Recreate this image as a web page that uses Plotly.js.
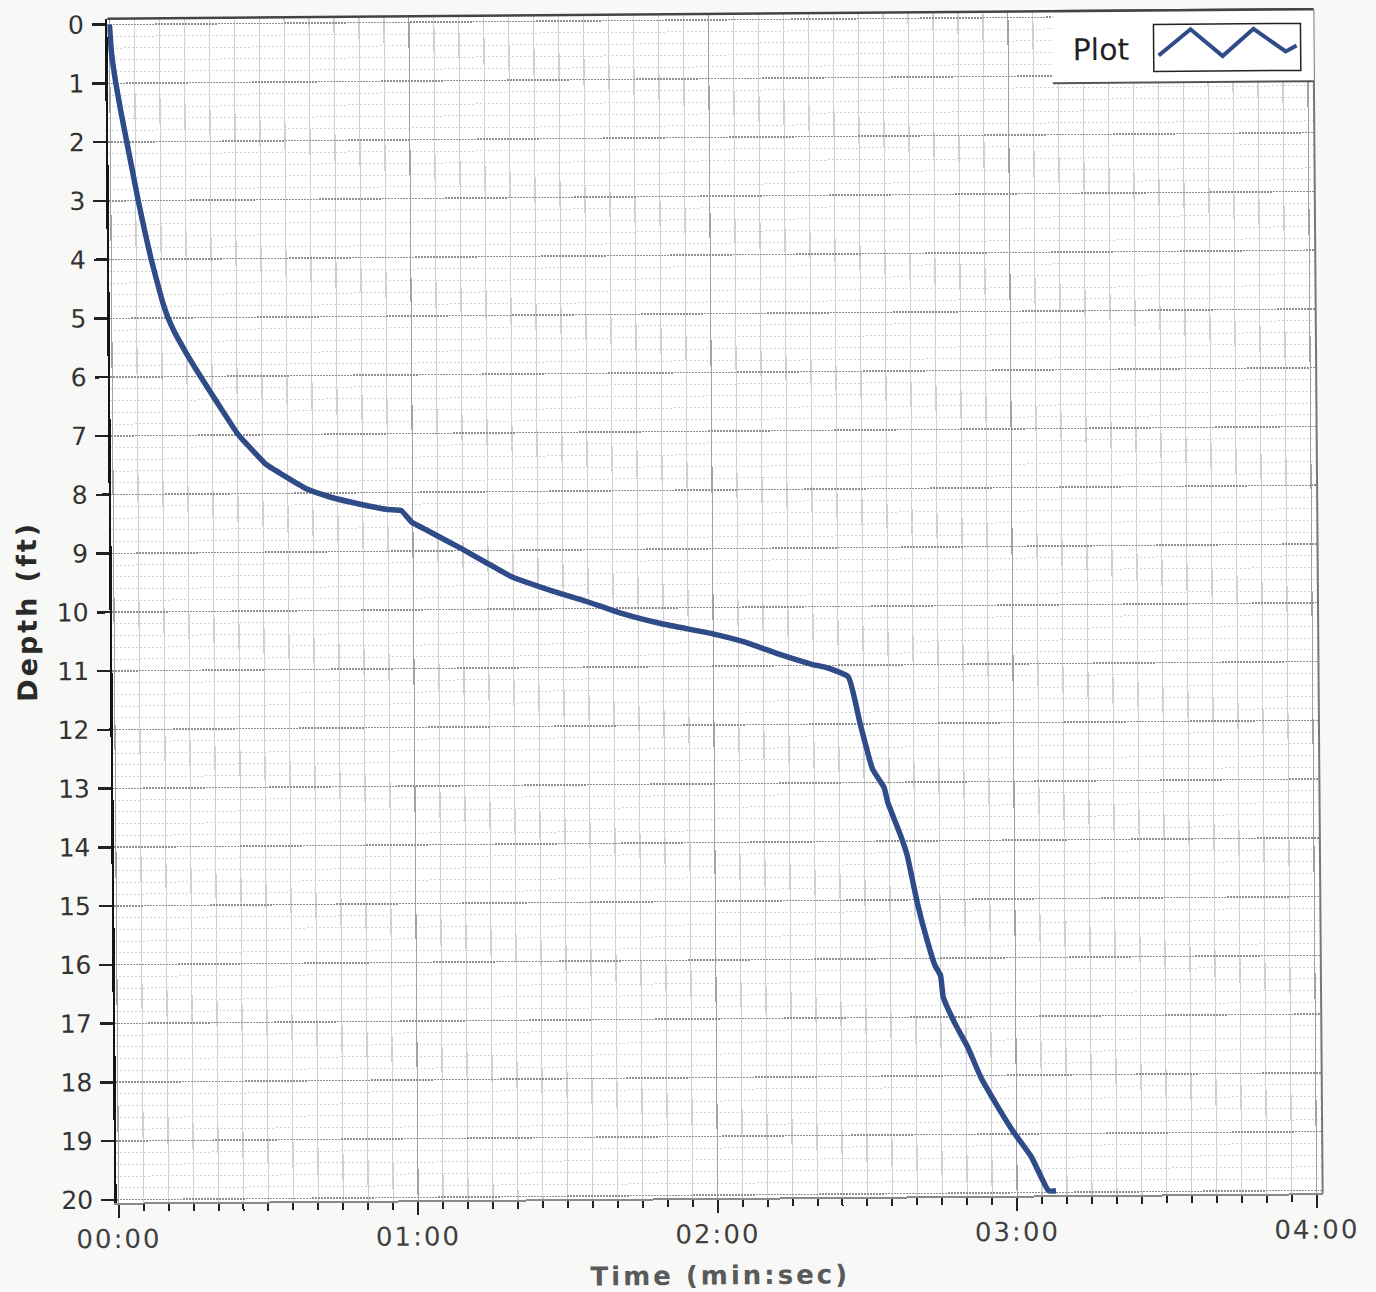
<!DOCTYPE html>
<html>
<head>
<meta charset="utf-8">
<script src="https://cdn.plot.ly/plotly-3.0.1.min.js"></script>
<style>
  html, body { margin: 0; padding: 0; background: #f8f8f7; }
  #chart {
    width: 1376px; height: 1292px;
    transform: rotate(-0.45deg);
    transform-origin: 715px 606px;
  }
  #chart .xtick text { letter-spacing: 2px; }
  #chart .xtitle { letter-spacing: 3px; }
  #chart .ytitle { letter-spacing: 3px; }
</style>
</head>
<body>
<div id="chart"></div>
<script>
// Descent profile: elapsed time (seconds) against depth (feet)
const timeSec = [
  0, 0.4, 1.2, 2.2, 3.3, 4.4, 5.5, 6.7, 8.0, 9.5,
  10.3, 11.3, 12.6, 14.2, 15.9, 17.7, 21.4, 25.2, 28.5, 30.5,
  34.5, 39.1, 43.1, 49.7, 55.0, 57.7, 59.8, 63.1, 69.8, 74.5,
  79.5, 89.7, 95.0, 101.0, 109.7, 119.5, 126.2, 133.0, 139.7, 142.7,
  147.0, 149.3, 151.7, 154.0, 154.7, 157.2, 158.5, 160.5, 162.2, 163.9,
  165.0, 165.5, 167.8, 170.3, 172.9, 176.3, 179.4, 182.9, 186.3, 187.8
];
const depthFt = [
  0, 0.5, 1.0, 1.5, 2.0, 2.5, 3.0, 3.5, 4.0, 4.5,
  4.75, 5.0, 5.25, 5.5, 5.75, 6.0, 6.5, 7.0, 7.31, 7.49,
  7.71, 7.94, 8.06, 8.20, 8.29, 8.31, 8.51, 8.66, 8.97, 9.20,
  9.44, 9.75, 9.89, 10.07, 10.27, 10.44, 10.59, 10.80, 10.98, 11.04,
  11.20, 12.00, 12.77, 13.09, 13.34, 13.90, 14.24, 15.07, 15.64, 16.12,
  16.29, 16.66, 17.11, 17.51, 18.03, 18.54, 18.97, 19.39, 19.97, 19.97
];
const timeTickVals = [0, 60, 120, 180, 240];
const timeTickText = ['00:00', '01:00', '02:00', '03:00', '04:00'];
const seriesName = 'Plot';

const FONT = 'DejaVu Sans, Verdana, sans-serif';
const LINE_BLUE = '#2f4b88';

// plot frame in page pixels
const W = 1376, H = 1292;
const M = { l: 112, r: 58, t: 14, b: 94 };
const plotW = W - M.l - M.r;
const plotH = H - M.t - M.b;
const px = x => (x - M.l) / plotW;          // page x -> paper x
const py = y => 1 - (y - M.t) / plotH;      // page y -> paper y

// legend swatch zig-zag, in page pixels
const zig = [[1163, 59], [1195, 33], [1227, 60], [1258, 33], [1290, 56], [1301, 50]];
const zigPath = zig.map((p, i) => (i ? 'L' : 'M') + px(p[0]).toFixed(5) + ',' + py(p[1]).toFixed(5)).join(' ');

const trace = {
  x: timeSec,
  y: depthFt,
  type: 'scatter',
  mode: 'lines',
  name: seriesName,
  line: { color: LINE_BLUE, width: 5.5, shape: 'spline', smoothing: 0.4 },
  showlegend: false,
  hoverinfo: 'x+y'
};

const layout = {
  width: W, height: H,
  margin: M,
  paper_bgcolor: '#f8f8f7',
  plot_bgcolor: '#ffffff',
  font: { family: FONT, color: '#333' },
  showlegend: false,
  xaxis: {
    range: [-0.4, 241.2],
    tickmode: 'array',
    tickvals: timeTickVals,
    ticktext: timeTickText,
    ticks: 'outside', ticklen: 13, tickwidth: 2, tickcolor: '#222',
    ticklabelstandoff: -1,
    tickfont: { family: FONT, size: 26, color: '#404040' },
    showline: true, linecolor: '#8a8a8a', linewidth: 2,
    showgrid: true, gridcolor: '#a2a2a2', gridwidth: 1.2,
    zeroline: false,
    minor: {
      tick0: 0, dtick: 5,
      ticks: 'outside', ticklen: 7, tickwidth: 2, tickcolor: '#222',
      showgrid: true, gridcolor: '#d0d0d0', gridwidth: 1.2
    },
    title: {
      text: 'Time (min:sec)',
      font: { family: FONT, size: 26, color: '#5a5a5a', weight: 'bold' },
      standoff: 18
    }
  },
  yaxis: {
    range: [20.05, -0.1],
    tick0: 0, dtick: 1,
    ticks: 'outside', ticklen: 13, tickwidth: 2.5, tickcolor: '#222',
    ticklabelstandoff: 3,
    tickfont: { family: FONT, size: 25, color: '#333' },
    showline: true, linecolor: '#151515', linewidth: 2.5,
    showgrid: true, gridcolor: '#909090', gridwidth: 1.5, griddash: '2px,1px',
    zeroline: false,
    minor: {
      tick0: 0, dtick: 0.2,
      showgrid: true, gridcolor: '#d4d4d4', gridwidth: 1, griddash: '2px,2px'
    },
    title: {
      text: 'Depth (ft)',
      font: { family: FONT, size: 27, color: '#2a2a2a', weight: 'bold' },
      standoff: 12
    }
  },
  shapes: [
    // top and right edges of the frame
    { type: 'line', xref: 'paper', yref: 'paper', x0: 0, x1: 1, y0: 1, y1: 1,
      line: { color: '#444', width: 2.5 }, layer: 'above' },
    { type: 'line', xref: 'paper', yref: 'paper', x0: 1, x1: 1, y0: 0, y1: 1,
      line: { color: '#777', width: 2 }, layer: 'above' },
    // legend panel
    { type: 'rect', xref: 'paper', yref: 'paper',
      x0: px(1057), x1: 1, y0: py(86), y1: 1,
      fillcolor: '#ffffff', line: { width: 0 }, layer: 'above' },
    { type: 'line', xref: 'paper', yref: 'paper',
      x0: px(1057), x1: 1, y0: py(86), y1: py(86),
      line: { color: '#555', width: 2 }, layer: 'above' },
    { type: 'line', xref: 'paper', yref: 'paper', x0: px(1057), x1: 1, y0: 1, y1: 1,
      line: { color: '#444', width: 2.5 }, layer: 'above' },
    // legend swatch box and zig-zag sample
    { type: 'rect', xref: 'paper', yref: 'paper',
      x0: px(1158), x1: px(1305), y0: py(75), y1: py(28),
      fillcolor: '#ffffff', line: { color: '#222', width: 1.5 }, layer: 'above' },
    { type: 'path', xref: 'paper', yref: 'paper', path: zigPath,
      line: { color: LINE_BLUE, width: 4 }, layer: 'above' }
  ],
  annotations: [
    { text: seriesName, xref: 'paper', yref: 'paper',
      x: px(1105), y: py(52), xanchor: 'center', yanchor: 'middle',
      showarrow: false, font: { family: FONT, size: 30, color: '#222' } }
  ]
};

Plotly.newPlot('chart', [trace], layout, { displayModeBar: false, staticPlot: true });
</script>
</body>
</html>
